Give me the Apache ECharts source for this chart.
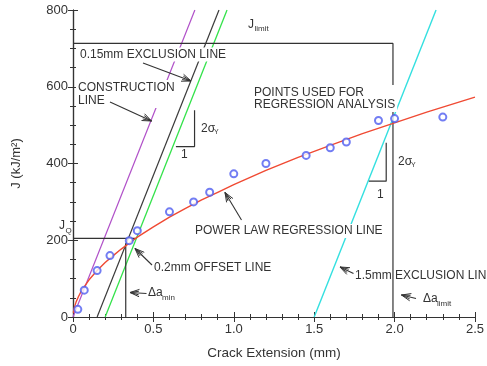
<!DOCTYPE html>
<html><head><meta charset="utf-8">
<script src="https://cdn.jsdelivr.net/npm/echarts@6/dist/echarts.min.js"></script>
<style>html,body{margin:0;padding:0;background:#fff}#c{width:487px;height:366px}</style>
</head><body><div id="c"></div>
<script>
// ---- data ----
const xTickLabels = ['0', '0.5', '1.0', '1.5', '2.0', '2.5'];
const yTickLabels = ['0', '200', '400', '600', '800'];
const crackExt = [0.03, 0.07, 0.15, 0.23, 0.35, 0.40, 0.60, 0.75, 0.85, 1.00, 1.20, 1.45, 1.60, 1.70, 1.90, 2.00, 2.30];
const jValues  = [20, 70, 121, 160, 199, 225, 274, 300, 325, 373, 400, 421, 441, 456, 512, 517, 521];
const fitA = [0.002, 0.005, 0.01, 0.02, 0.035, 0.05, 0.075, 0.1, 0.15, 0.2, 0.25, 0.3, 0.4, 0.5, 0.6, 0.7, 0.8, 0.9, 1.0, 1.2, 1.4, 1.6, 1.8, 2.0, 2.2, 2.5];
const fitJ = [11, 18, 27, 40, 54, 66, 82, 97, 121, 142, 160, 177, 208, 235, 260, 283, 305, 325, 345, 382, 416, 447, 478, 506, 534, 573];
const constructionLine = [[0, 0], [0.758, 800]];
const exclusion015 = [[0.15, 0], [0.908, 800]];
const offset02 = [[0.2, 0], [0.958, 800]];
const exclusion15 = [[1.5, 0], [2.258, 800]];
const jLimitPath = [[0, 713], [1.99, 713], [1.99, 0]];
const jQLine = [[0, 205], [0.39, 205]];
const daMinLine = [[0.328, 0], [0.328, 192]];
const slopeMark1 = [[0.64, 444], [0.756, 444], [0.756, 539]];
const slopeMark2 = [[1.84, 354], [1.948, 354], [1.948, 454]];

const FONT = "'Liberation Sans', Arial, Helvetica, sans-serif";
const TXT = '#333';
const chart = echarts.init(document.getElementById('c'), null, {renderer: 'canvas'});

function lineSeries(data, color, width, z) {
  return {type: 'line', data: data, showSymbol: false, symbol: 'none', silent: true,
    lineStyle: {color: color, width: width || 1.2}, z: z || 2, animation: false};
}
const tickCommon = {show: true, inside: true, length: 5, lineStyle: {color: '#333', width: 1}};
const minorCommon = {show: true, length: 3, lineStyle: {color: '#333', width: 1}};
const axisLineCommon = {show: true, lineStyle: {color: '#333', width: 1.2}};

const option = {
  animation: false,
  backgroundColor: '#fff',
  grid: {left: 73, right: 5, top: 10, bottom: 49},
  xAxis: [{
    type: 'value', min: 0, max: 2.5, interval: 0.5, position: 'bottom',
    axisLine: axisLineCommon, axisTick: tickCommon,
    minorTick: Object.assign({splitNumber: 5}, minorCommon),
    splitLine: {show: false},
    axisLabel: {color: TXT, fontSize: 13, fontFamily: FONT, margin: 6,
      formatter: (v) => xTickLabels[Math.round(v / 0.5)]},
    name: 'Crack Extension (mm)', nameLocation: 'middle', nameGap: 29,
    nameTextStyle: {color: TXT, fontSize: 13.5, fontFamily: FONT}
  }, {
    type: 'value', min: 0, max: 2.5, interval: 0.5, position: 'top',
    axisLine: axisLineCommon, axisTick: tickCommon,
    minorTick: Object.assign({splitNumber: 5}, minorCommon),
    splitLine: {show: false}, axisLabel: {show: false}
  }],
  yAxis: [{
    type: 'value', min: 0, max: 800, interval: 200, position: 'left',
    axisLine: axisLineCommon, axisTick: tickCommon,
    minorTick: Object.assign({splitNumber: 4}, minorCommon),
    splitLine: {show: false},
    axisLabel: {color: TXT, fontSize: 13, fontFamily: FONT, margin: 5,
      formatter: (v) => yTickLabels[Math.round(v / 200)]},
    name: 'J (kJ/m²)', nameLocation: 'middle', nameGap: 50, nameRotate: 90,
    nameTextStyle: {color: TXT, fontSize: 13, fontFamily: FONT}
  }, {
    type: 'value', min: 0, max: 800, interval: 200, position: 'right',
    axisLine: axisLineCommon, axisTick: tickCommon,
    minorTick: Object.assign({splitNumber: 4}, minorCommon),
    splitLine: {show: false}, axisLabel: {show: false}
  }],
  series: [
    lineSeries(constructionLine, '#b050c8', 1.2),
    lineSeries(exclusion015, '#3a3a3a', 1.2),
    lineSeries(offset02, '#33e24a', 1.3),
    lineSeries(exclusion15, '#33e0e0', 1.4),
    lineSeries(jLimitPath, '#333', 1.2),
    lineSeries(jQLine, '#333', 1.2),
    lineSeries(daMinLine, '#333', 1.2),
    lineSeries(slopeMark1, '#333', 1.2),
    lineSeries(slopeMark2, '#333', 1.2),
    lineSeries(fitA.map((a, i) => [a, fitJ[i]]), '#f04a33', 1.4, 3),
    {type: 'scatter', data: crackExt.map((a, i) => [a, jValues[i]]), symbol: 'emptyCircle', symbolSize: 7,
      itemStyle: {color: '#4f5cf0', borderWidth: 1.3}, z: 4, silent: true}
  ]
};
chart.setOption(option);

// ---- annotations ----
function txt(x, y, s, opts) {
  return Object.assign({type: 'text', x: x, y: y, z: 100, silent: true,
    style: Object.assign({text: s, fill: TXT, font: '12px ' + FONT, align: 'left', verticalAlign: 'middle'}, (opts && opts.style) || {})},
    opts && opts.el || {});
}
function arrow(x1, y1, x2, y2) {
  const ang = Math.atan2(y2 - y1, x2 - x1);
  const els = [{type: 'line', z: 100, silent: true, shape: {x1: x1, y1: y1, x2: x2, y2: y2}, style: {stroke: '#333', lineWidth: 1.1}}];
  [[0.38, 10], [-0.38, 10], [0.2, 9], [-0.2, 9]].forEach(([da, L]) => {
    const a = ang + Math.PI + da;
    els.push({type: 'line', z: 100, silent: true,
      shape: {x1: x2, y1: y2, x2: x2 + L * Math.cos(a), y2: y2 + L * Math.sin(a)},
      style: {stroke: '#333', lineWidth: 1}});
  });
  return els;
}
const bg = {backgroundColor: '#fff', padding: [1, 2, 1, 2]};
let g = [];
g.push(txt(78, 54.5, '0.15mm EXCLUSION LINE', {style: bg}));
g.push(txt(76, 94, 'CONSTRUCTION\nLINE', {style: Object.assign({lineHeight: 13}, bg)}));
g.push(txt(252, 98.6, 'POINTS USED FOR\nREGRESSION ANALYSIS', {style: Object.assign({lineHeight: 12.5}, bg)}));
g.push(txt(193, 231, 'POWER LAW REGRESSION LINE', {style: bg}));
g.push(txt(154, 267.5, '0.2mm OFFSET LINE'));
g.push(txt(355, 276, '1.5mm EXCLUSION LINE'));
// J_limit
g.push(txt(248, 25, 'J'));
g.push(txt(254.5, 29, 'limit', {style: {font: '8px ' + FONT}}));
// J_Q
g.push(txt(59, 226, 'J'));
g.push(txt(65.5, 231, 'Q', {style: {font: '8px ' + FONT}}));
// Δa_min
g.push(txt(148, 293, 'Δa'));
g.push(txt(162, 297.5, 'min', {style: {font: '8px ' + FONT}}));
// Δa_limit
g.push(txt(423, 299, 'Δa'));
g.push(txt(437, 303.5, 'limit', {style: {font: '8px ' + FONT}}));
// slope triangles
g.push(txt(201, 129, '2σ'));
g.push(txt(214, 132.5, 'Y', {style: {font: '7px ' + FONT}}));
g.push(txt(181, 155, '1'));
g.push(txt(398, 162, '2σ'));
g.push(txt(411, 165.5, 'Y', {style: {font: '7px ' + FONT}}));
g.push(txt(377, 195, '1'));
// arrows
g = g.concat(arrow(143, 63, 191, 81));
g = g.concat(arrow(110, 102, 151.5, 121));
g = g.concat(arrow(241.5, 220, 225, 192.5));
g = g.concat(arrow(152, 265, 135, 248.5));
g = g.concat(arrow(146.5, 293.5, 130, 292.5));
g = g.concat(arrow(353.5, 273.5, 340, 267));
g = g.concat(arrow(416, 298.5, 401.5, 295));
chart.setOption({graphic: {elements: g}});
</script>
</body></html>
